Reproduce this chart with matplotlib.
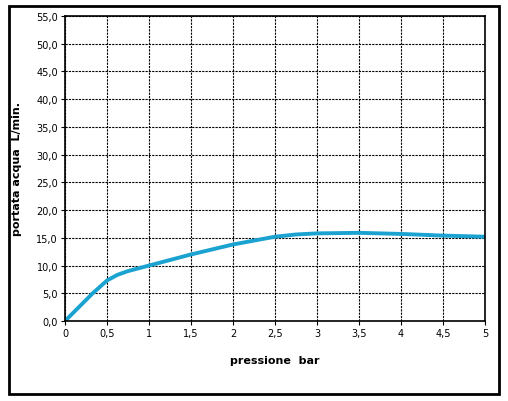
import matplotlib.pyplot as plt
from matplotlib.patches import Rectangle
from matplotlib.ticker import FuncFormatter

pressione = [0, 0.33, 0.5, 0.62, 0.75, 1.0, 1.5, 2.0, 2.5, 2.75, 3.0, 3.5, 4.0, 4.5, 5.0]
portata = [0, 5.0, 7.3, 8.3, 9.0, 10.0, 12.0, 13.8, 15.2, 15.6, 15.8, 15.9, 15.7, 15.4, 15.2]

fig = plt.figure(figsize=(5.08, 4.02), dpi=100)
ax = fig.add_axes([65/508, 1-322/402, 420/508, 305/402])

ax.plot(pressione, portata, color='#1aa3d1', linewidth=2.8, solid_capstyle='round')

ax.set_xlim(0, 5)
ax.set_ylim(0, 55)
ax.set_xticks([0, 0.5, 1, 1.5, 2, 2.5, 3, 3.5, 4, 4.5, 5])
ax.set_yticks(range(0, 56, 5))
ax.xaxis.set_major_formatter(FuncFormatter(lambda v, p: f'{v:g}'.replace('.', ',')))
ax.yaxis.set_major_formatter(FuncFormatter(lambda v, p: f'{v:.1f}'.replace('.', ',')))
ax.grid(True, color='black', linestyle=(0, (2, 1)), linewidth=0.8)
ax.tick_params(labelsize=7, length=3, pad=2)
for s in ax.spines.values():
    s.set_linewidth(1.2)

ax.set_xlabel('pressione  bar', fontsize=8, fontweight='bold', labelpad=12)
ax.set_ylabel('portata acqua  L/min.', fontsize=8, fontweight='bold', labelpad=10)

fig.patches.append(Rectangle((9/508, 7/402), 490/508, 388/402, transform=fig.transFigure,
                             fill=False, edgecolor='black', linewidth=2))

fig.savefig('out.png', dpi=100)
